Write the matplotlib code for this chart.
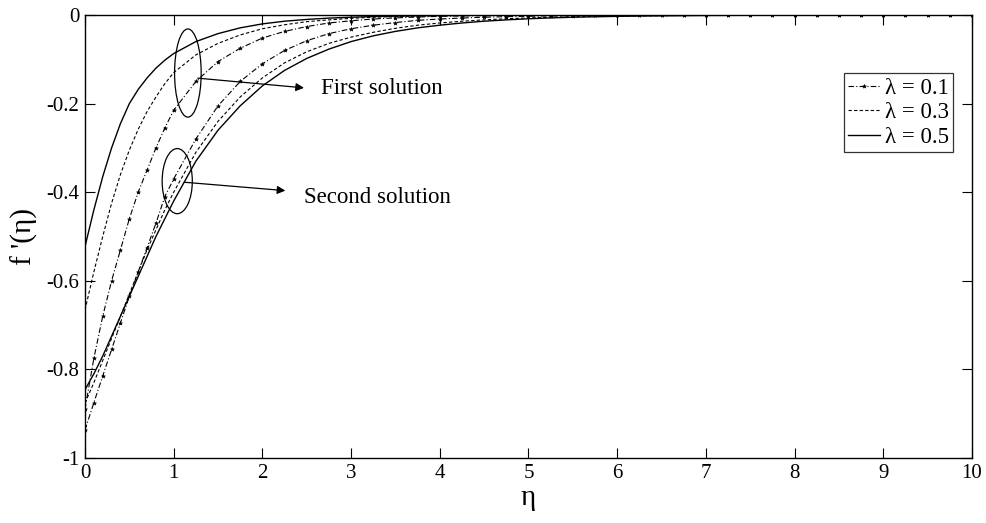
import numpy as np
import matplotlib
matplotlib.use("Agg")
import matplotlib.pyplot as plt
from matplotlib.patches import Ellipse

plt.rcParams['font.family'] = ['Liberation Serif', 'DejaVu Serif']
plt.rcParams['axes.unicode_minus'] = False

# eta positions where the curves were read
eta = [0, 0.1, 0.2, 0.3, 0.4, 0.5, 0.6, 0.7, 0.8, 0.9, 1.0,
       1.25, 1.5, 1.75, 2.0, 2.25, 2.5, 2.75, 3.0, 3.25, 3.5, 3.75, 4.0,
       4.25, 4.5, 4.75, 5.0, 5.25, 5.5, 5.75, 6.0, 6.25, 6.5, 6.75, 7.0,
       7.25, 7.5, 7.75, 8.0, 8.25, 8.5, 8.75, 9.0, 9.25, 9.5, 9.75, 10.0]

# first solution branch
first_01 = [-0.89, -0.775, -0.68, -0.6, -0.53, -0.46, -0.4, -0.35, -0.3, -0.255, -0.215,
            -0.15, -0.105, -0.075, -0.052, -0.037, -0.026, -0.018, -0.013, -0.009, -0.0065, -0.0045, -0.003,
            -0.002, -0.0015, -0.001, -0.0007, -0.0005, -0.0003] + [0] * 18
first_03 = [-0.666, -0.58, -0.5, -0.425, -0.36, -0.305, -0.258, -0.218, -0.185, -0.155, -0.13,
            -0.09, -0.064, -0.045, -0.031, -0.022, -0.015, -0.011, -0.0075, -0.005, -0.0035, -0.0025, -0.0017,
            -0.0012, -0.0008, -0.0006, -0.0004] + [0] * 20
first_05 = [-0.523, -0.44, -0.365, -0.3, -0.245, -0.2, -0.168, -0.142, -0.12, -0.102, -0.087,
            -0.06, -0.042, -0.029, -0.02, -0.014, -0.01, -0.007, -0.005, -0.0035, -0.0025, -0.0018, -0.0012,
            -0.0009, -0.0006, -0.0004, -0.0003] + [0] * 20

# second solution branch
second_01 = [-0.937, -0.875, -0.815, -0.755, -0.695, -0.635, -0.58, -0.525, -0.47, -0.41, -0.37,
              -0.28, -0.205, -0.15, -0.11, -0.08, -0.058, -0.042, -0.031, -0.023, -0.017, -0.012, -0.009,
              -0.0068, -0.005, -0.0037, -0.0028, -0.002, -0.0015, -0.0011, -0.0008, -0.0006, -0.0004] + [0] * 14
second_03 = [-0.876, -0.83, -0.78, -0.73, -0.68, -0.63, -0.58, -0.53, -0.485, -0.44, -0.4,
             -0.31, -0.24, -0.185, -0.142, -0.108, -0.083, -0.064, -0.05, -0.039, -0.03, -0.023, -0.018,
             -0.014, -0.011, -0.0085, -0.0065, -0.005, -0.004, -0.003, -0.0024, -0.0018, -0.0014, -0.001,
             -0.0008, -0.0006, -0.0004] + [0] * 10
second_05 = [-0.846, -0.81, -0.77, -0.725, -0.68, -0.635, -0.59, -0.545, -0.5, -0.46, -0.42,
             -0.33, -0.26, -0.205, -0.16, -0.125, -0.098, -0.077, -0.06, -0.047, -0.037, -0.029, -0.023,
             -0.018, -0.014, -0.011, -0.0085, -0.0065, -0.005, -0.004, -0.003, -0.0023, -0.0018, -0.0014,
             -0.001, -0.0008, -0.0006, -0.0004, -0.0003] + [0] * 8

labels = ['\u03bb = 0.1', '\u03bb = 0.3', '\u03bb = 0.5']

xticks = [0, 1, 2, 3, 4, 5, 6, 7, 8, 9, 10]
yticks = [0, -0.2, -0.4, -0.6, -0.8, -1]
ytick_labels = ['0', '-0.2', '-0.4', '-0.6', '-0.8', '-1']

fig = plt.figure(figsize=(9.87, 5.23), dpi=100)
ax = fig.add_axes([0.0861, 0.1243, 0.8987, 0.847])

dashdot = (0, (5, 2, 1, 2))
dashed = (0, (3, 2))

# lambda = 0.1 (dash-dot with small star markers)
ax.plot(eta, first_01, color='black', lw=0.8, ls=dashdot, marker='*', ms=3, mew=0.4, label=labels[0])
ax.plot(eta, second_01, color='black', lw=0.8, ls=dashdot, marker='*', ms=3, mew=0.4)
# lambda = 0.3 (dashed)
ax.plot(eta, first_03, color='black', lw=0.8, ls=dashed, label=labels[1])
ax.plot(eta, second_03, color='black', lw=0.8, ls=dashed)
# lambda = 0.5 (solid)
ax.plot(eta, first_05, color='black', lw=1.0, ls='-', label=labels[2])
ax.plot(eta, second_05, color='black', lw=1.0, ls='-')

ax.set_xlim(0, 10)
ax.set_ylim(-1, 0)
ax.set_xticks(xticks)
ax.set_xticklabels([str(t) for t in xticks])
ax.set_yticks(yticks)
ax.set_yticklabels(ytick_labels)
ax.tick_params(direction='in', length=7, width=0.8, top=True, right=True, labelsize=15, pad=4)
for s in ax.spines.values():
    s.set_linewidth(1.0)

ax.set_xlabel('\u03b7', fontsize=21, labelpad=2)
ax.set_ylabel("f '(\u03b7)", fontsize=21, labelpad=6)

# ellipses and arrows marking the two branches
ax.add_patch(Ellipse((1.16, -0.131), 0.30, 0.199, fill=False, lw=0.9, color='black'))
ax.add_patch(Ellipse((1.04, -0.375), 0.34, 0.147, fill=False, lw=0.9, color='black'))
ax.annotate('', xy=(2.50, -0.165), xytext=(1.24, -0.142),
            arrowprops=dict(arrowstyle='-|>', color='black', lw=0.9, mutation_scale=12))
ax.annotate('', xy=(2.29, -0.397), xytext=(1.09, -0.377),
            arrowprops=dict(arrowstyle='-|>', color='black', lw=0.9, mutation_scale=12))
ax.text(2.66, -0.165, 'First solution', fontsize=16.5, va='center', ha='left')
ax.text(2.47, -0.411, 'Second solution', fontsize=16.5, va='center', ha='left')

leg = ax.legend(loc='upper right', bbox_to_anchor=(0.979, 0.869), borderaxespad=0,
                fontsize=16.5, frameon=True, fancybox=False, handlelength=1.4,
                handletextpad=0.2, labelspacing=0.15, borderpad=0.2)
leg.get_frame().set_edgecolor('black')
leg.get_frame().set_linewidth(0.9)

fig.savefig('out.png', dpi=100)
